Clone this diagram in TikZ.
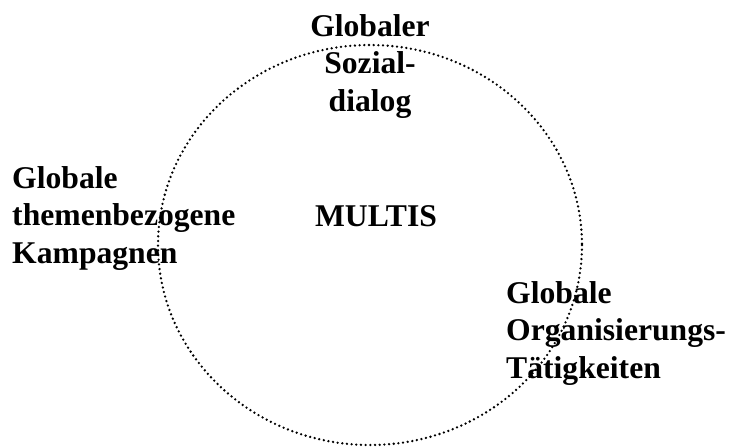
\documentclass[tikz,border=0pt]{standalone}
\usepackage{fontspec}
\setmainfont{Liberation Serif}
\usetikzlibrary{positioning}
\tikzset{
  bigtext/.style={font=\fontsize{27}{32}\selectfont\bfseries, inner sep=0pt},
  ring/.style={line width=2.2pt, dash pattern=on 0pt off 4pt, line cap=round}
}
\begin{document}
\begin{tikzpicture}[x=0.03cm, y=-0.03cm]

\useasboundingbox (0,0) rectangle (729,446);

% dotted ring
\draw[ring] (370,245) ellipse [x radius=212, y radius=200];

% texts
\node[bigtext, anchor=north, align=center] (sozial) at (370,14) {Globaler\\Sozial-\\dialog};
\node[bigtext, anchor=north west, align=left] (kampagnen) at (12,166) {Globale\\themenbezogene\\Kampagnen};
\node[bigtext, anchor=base] (multis) at (376,226) {MULTIS};
\node[bigtext, anchor=north west, align=left] (organ) at (506,281) {Globale\\Organisierungs-\\Tätigkeiten};

\end{tikzpicture}
\end{document}
